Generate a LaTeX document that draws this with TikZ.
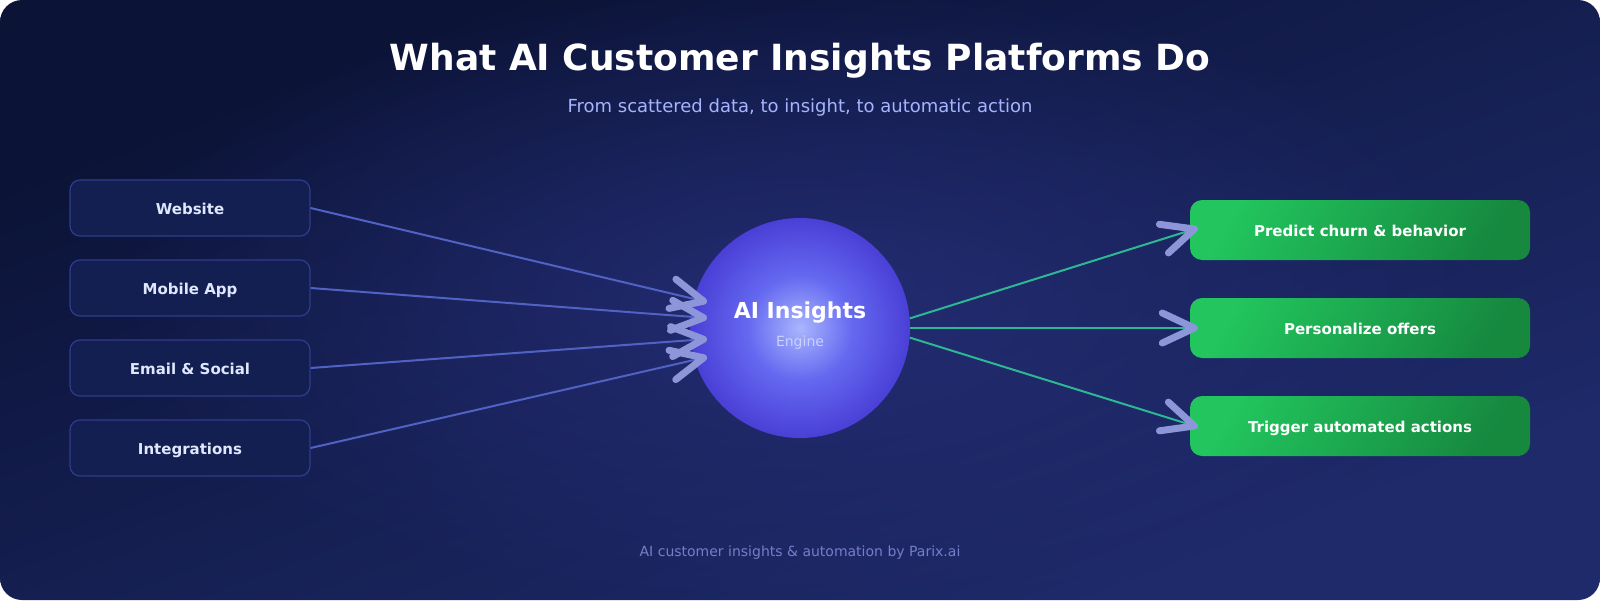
\documentclass[tikz,border=0pt]{standalone}
\usepackage{fontspec}
\setmainfont{DejaVu Sans}
\usetikzlibrary{arrows.meta,fadings,calc}

\definecolor{bgA}{HTML}{0B1336}
\definecolor{bgB}{HTML}{1E2A6A}
\definecolor{glow}{HTML}{2A3280}
\definecolor{srcfill}{HTML}{131F50}
\definecolor{srcline}{HTML}{2F3C8E}
\definecolor{srctext}{HTML}{E0E7FF}
\definecolor{inl}{HTML}{5062C4}
\definecolor{outl}{HTML}{2DB894}
\definecolor{tipcol}{HTML}{8E96DA}
\definecolor{gA}{HTML}{22C55E}
\definecolor{gB}{HTML}{16893F}
\definecolor{subc}{HTML}{A5B4FC}
\definecolor{footc}{HTML}{7180C8}
\definecolor{engc}{HTML}{C7D2FE}
\definecolor{orbA}{HTML}{A9B6FD}
\definecolor{orbB}{HTML}{6468F0}
\definecolor{orbC}{HTML}{4A3FD6}

\pgfdeclareradialshading{orb}{\pgfpointorigin}{color(0bp)=(orbA); color(12bp)=(orbB); color(25bp)=(orbC); color(50bp)=(orbC)}
\tikzfading[name=glowfade, inner color=transparent!30, outer color=transparent!100]

\tikzset{
  src/.style={draw=srcline, line width=1.2pt, fill=srcfill, rounded corners=10pt,
    minimum width=240pt, minimum height=56pt, inner sep=0pt, text=srctext,
    text height=13pt, text depth=0pt,
    font=\fontsize{15}{18}\selectfont\bfseries},
  act/.style={rounded corners=12pt, minimum width=340pt, minimum height=60pt, inner sep=0pt,
    top color=gA, bottom color=gB, shading angle=60, text=white,
    text height=13pt, text depth=0pt,
    font=\fontsize{15}{18}\selectfont\bfseries},
  core/.style={circle, minimum size=220pt, inner sep=0pt, shading=orb},
  inarrow/.style={draw=inl, line width=2pt,
    -{Straight Barb[length=32pt,width=30pt,line width=7pt,round,color=tipcol]}},
  outarrow/.style={draw=outl, line width=2pt,
    -{Straight Barb[length=32pt,width=30pt,line width=7pt,round,color=tipcol]}},
}

\begin{document}
\begin{tikzpicture}[x=1pt,y=-1pt]
\fill[white] (0,0) rectangle (1600,600);
\useasboundingbox (0,0) rectangle (1600,600);
\begin{scope}
  \clip[rounded corners=22pt] (0,0) rectangle (1600,600);
  \begin{scope}[transform canvas={xscale=2.6667}]
    \shade[top color=bgA, bottom color=bgB, shading angle=45] (0,0) rectangle (600,600);
  \end{scope}
  \fill[glow, path fading=glowfade] (800,300) ellipse [x radius=700, y radius=320];
\end{scope}

\node[font=\fontsize{36}{42}\selectfont\bfseries, text=white] (title) at (800,61) {What AI Customer Insights Platforms Do};
\node[font=\fontsize{18}{22}\selectfont, text=subc] (subtitle) at (800,108) {From scattered data, to insight, to automatic action};

\node[src] (web) at (190,208) {Website};
\node[src] (app) at (190,288) {Mobile App};
\node[src] (mail) at (190,368) {Email \& Social};
\node[src] (integ) at (190,448) {Integrations};

\node[core] (engine) at (800,328) {};
\node[font=\fontsize{22}{26}\selectfont\bfseries, text=white] (enginetitle) at (800,313) {AI Insights};
\node[font=\fontsize{14}{17}\selectfont, text=engc] (enginesub) at (800,343) {Engine};

\node[act] (churn) at (1360,230) {Predict churn \& behavior};
\node[act] (offers) at (1360,328) {Personalize offers};
\node[act] (trigger) at (1360,426) {Trigger automated actions};

\coordinate (t1) at ($(engine.center)+(-93,-26)$);
\coordinate (t2) at ($(engine.center)+(-93,-10)$);
\coordinate (t3) at ($(engine.center)+(-93,11)$);
\coordinate (t4) at ($(engine.center)+(-93,29)$);
\draw[inarrow] (web.east) -- (t1);
\draw[inarrow] (app.east) -- (t2);
\draw[inarrow] (mail.east) -- (t3);
\draw[inarrow] (integ.east) -- (t4);

\coordinate (r1) at ($(churn.west)+(8,-2)$);
\coordinate (r2) at ($(offers.west)+(8,0)$);
\coordinate (r3) at ($(trigger.west)+(8,1)$);
\draw[outarrow] (engine.5) -- (r1);
\draw[outarrow] (engine.east) -- (r2);
\draw[outarrow] (engine.-5) -- (r3);

\node[font=\fontsize{14}{17}\selectfont, text=footc] (footer) at (800,553) {AI customer insights \& automation by Parix.ai};
\end{tikzpicture}
\end{document}
